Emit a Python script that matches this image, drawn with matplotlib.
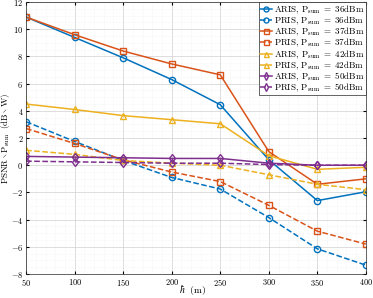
import matplotlib
matplotlib.use("Agg")
import matplotlib.pyplot as plt
from matplotlib.ticker import MultipleLocator

plt.rcParams['font.family'] = 'serif'
plt.rcParams['font.serif'] = ['cmr10', 'DejaVu Serif']
plt.rcParams['mathtext.fontset'] = 'cm'
plt.rcParams['axes.formatter.use_mathtext'] = True

h = [50, 100, 150, 200, 250, 300, 350, 400]
aris36 = [10.9, 9.4, 7.9, 6.3, 4.45, 0.4, -2.6, -1.95]
pris36 = [3.2, 1.75, 0.35, -0.9, -1.75, -3.85, -6.15, -7.35]
aris37 = [10.9, 9.6, 8.4, 7.45, 6.65, 1.0, -1.4, -1.0]
pris37 = [2.7, 1.6, 0.4, -0.5, -1.2, -2.95, -4.85, -5.8]
aris42 = [4.5, 4.1, 3.65, 3.35, 3.05, 0.7, -0.3, -0.15]
pris42 = [1.1, 0.8, 0.35, 0.15, 0.0, -0.7, -1.4, -1.8]
aris50 = [0.65, 0.6, 0.55, 0.5, 0.5, 0.15, 0.0, 0.0]
pris50 = [0.3, 0.25, 0.2, 0.15, 0.15, 0.05, 0.0, 0.0]

labels = [r'$\mathrm{ARIS,\,P_{sum}\ =\ 36dBm}$',
          r'$\mathrm{PRIS,\,P_{sum}\ =\ 36dBm}$',
          r'$\mathrm{ARIS,\,P_{sum}\ =\ 37dBm}$',
          r'$\mathrm{PRIS,\,P_{sum}\ =\ 37dBm}$',
          r'$\mathrm{ARIS,\,P_{sum}\ =\ 42dBm}$',
          r'$\mathrm{PRIS,\,P_{sum}\ =\ 42dBm}$',
          r'$\mathrm{ARIS,\,P_{sum}\ =\ 50dBm}$',
          r'$\mathrm{PRIS,\,P_{sum}\ =\ 50dBm}$']

series = [aris36, pris36, aris37, pris37, aris42, pris42, aris50, pris50]
colors = ['#0072BD', '#0072BD', '#D95319', '#D95319', '#EDB120', '#EDB120', '#7E2F8E', '#7E2F8E']
markers = ['o', 'o', 's', 's', '^', '^', 'd', 'd']
styles = ['-', '--', '-', '--', '-', '--', '-', '--']

fig = plt.figure(figsize=(3.73, 2.98), dpi=100)
ax = fig.add_axes([0.070, 0.0805, 0.911, 0.9125])

for y, c, m, ls, lab in zip(series, colors, markers, styles, labels):
    ax.plot(h, y, color=c, marker=m, linestyle=ls, linewidth=1.1,
            markersize=4.5, markerfacecolor='none', markeredgewidth=1.0, label=lab)

ax.set_xlim(50, 400)
ax.set_ylim(-8, 12)
ax.xaxis.set_major_locator(MultipleLocator(50))
ax.yaxis.set_major_locator(MultipleLocator(2))
ax.xaxis.set_minor_locator(MultipleLocator(10))
ax.yaxis.set_minor_locator(MultipleLocator(0.5))
ax.grid(True, which='major', color='#d0d0d0', linewidth=0.5)
ax.grid(True, which='minor', color='#ebebeb', linewidth=0.4, linestyle=':')
ax.tick_params(which='both', direction='in', labelsize=6, length=2, top=True, right=True, pad=2)
ax.tick_params(which='minor', length=0)
for s in ax.spines.values():
    s.set_linewidth(0.5)
    s.set_color('#262626')

fig.text(193 / 373, 1 - 290 / 298, r'$\hbar\ \ (\mathrm{m})$', fontsize=7,
         ha='center', va='center')
fig.text(6 / 373, 1 - 138 / 298,
         r'$\mathrm{PSNR} \setminus \mathrm{P_{sum}}\ \ (\mathrm{dB} \setminus \mathrm{W})$',
         fontsize=6.5, rotation=90, ha='center', va='center')

leg = ax.legend(loc='upper right', fontsize=6.5, frameon=True, fancybox=False,
                edgecolor='#262626', borderpad=0.15, labelspacing=-0.15,
                handlelength=1.3, handletextpad=0.2, borderaxespad=0.0,
                framealpha=1.0, markerscale=0.8)
leg.get_frame().set_linewidth(0.5)

fig.savefig('out.png', dpi=100)
